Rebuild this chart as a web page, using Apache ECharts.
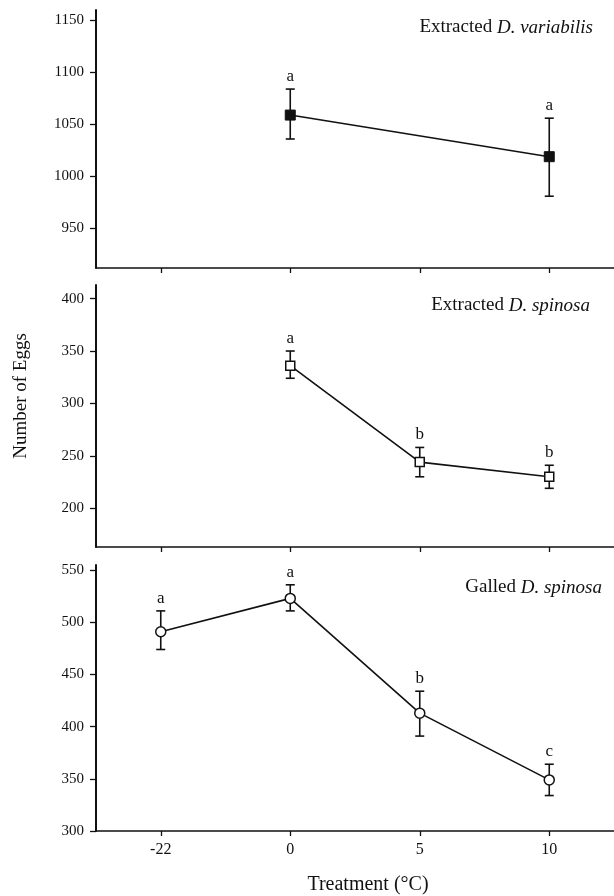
<!DOCTYPE html>
<html>
<head>
<meta charset="utf-8">
<script src="https://cdn.jsdelivr.net/npm/echarts@6/dist/echarts.min.js"></script>
<style>html,body{margin:0;padding:0;background:#fff}#c{width:614px;height:896px}</style>
</head>
<body>
<div id="c"></div>
<script>
// ---- Data ----
const categories = ['-22', '0', '5', '10'];

// Panel 1: Extracted D. variabilis
const varMean  = [null, 1059, null, 1019];
const varUpper = [null, 1084, null, 1056];
const varLower = [null, 1036, null, 981];
const varLetters = [null, 'a', null, 'a'];

// Panel 2: Extracted D. spinosa
const spiMean  = [null, 336, 244, 230];
const spiUpper = [null, 350, 258, 241];
const spiLower = [null, 324, 230, 219];
const spiLetters = [null, 'a', 'b', 'b'];

// Panel 3: Galled D. spinosa
const galMean  = [491, 523, 413, 349];
const galUpper = [511, 536, 434, 364];
const galLower = [474, 511, 391, 334];
const galLetters = ['a', 'a', 'b', 'c'];

// Tick labels
const ticks1 = [950, 1000, 1050, 1100, 1150];
const ticks2 = [200, 250, 300, 350, 400];
const ticks3 = [300, 350, 400, 450, 500, 550];

// ---- Chart ----
const FONT = '"Liberation Serif", "DejaVu Serif", serif';
const INK = '#111';

function errData(lower, upper, letters) {
  const out = [];
  for (let i = 0; i < lower.length; i++) {
    if (lower[i] == null) continue;
    out.push([i, lower[i], upper[i], letters[i]]);
  }
  return out;
}

function renderErr(params, api) {
  const i = api.value(0);
  const pLo = api.coord([i, api.value(1)]);
  const pHi = api.coord([i, api.value(2)]);
  const x = pLo[0];
  const cap = 4.5;
  const letter = api.value(3);
  const lineStyle = { stroke: INK, lineWidth: 1.6 };
  return {
    type: 'group',
    children: [
      { type: 'line', shape: { x1: x, y1: pLo[1], x2: x, y2: pHi[1] }, style: lineStyle },
      { type: 'line', shape: { x1: x - cap, y1: pLo[1], x2: x + cap, y2: pLo[1] }, style: lineStyle },
      { type: 'line', shape: { x1: x - cap, y1: pHi[1], x2: x + cap, y2: pHi[1] }, style: lineStyle },
      { type: 'text', style: { text: String(letter), x: x, y: pHi[1] - 4, fill: INK,
          font: '17px ' + FONT, align: 'center', verticalAlign: 'bottom' } }
    ]
  };
}

const gridLeft = 96, gridWidth = 523;
const grids = [
  { left: gridLeft, width: gridWidth, top: 10, height: 258 },
  { left: gridLeft, width: gridWidth, top: 285, height: 262 },
  { left: gridLeft, width: gridWidth, top: 565, height: 266 }
];

function xAxisFor(idx, showLabels) {
  return {
    type: 'category', gridIndex: idx, data: categories, boundaryGap: true,
    axisLine: { show: true, lineStyle: { color: INK, width: 1.5 } },
    axisTick: { show: true, alignWithLabel: true, length: 5, lineStyle: { color: INK, width: 1.3 } },
    axisLabel: { show: showLabels, color: INK, fontFamily: FONT, fontSize: 16, margin: 11 },
    splitLine: { show: false }
  };
}
function yAxisFor(idx, min, max, ticks) {
  return {
    type: 'value', gridIndex: idx, min: min, max: max,
    axisLine: { show: true, lineStyle: { color: INK, width: 2 } },
    axisTick: { show: true, length: 6, customValues: ticks, lineStyle: { color: INK, width: 1.3 } },
    axisLabel: { color: INK, fontFamily: FONT, fontSize: 15, margin: 12, customValues: ticks,
      formatter: function (v) { return String(v); } },
    splitLine: { show: false }
  };
}

const lineBase = {
  type: 'line', connectNulls: true, z: 3,
  lineStyle: { color: INK, width: 1.6 },
  itemStyle: { color: '#fff', borderColor: INK, borderWidth: 1.5 },
  symbolSize: 10, animation: false
};

const titleRich = {
  n: { fontFamily: FONT, fontSize: 19, color: INK, fontWeight: 'normal' },
  i: { fontFamily: FONT, fontSize: 19, color: INK, fontStyle: 'italic', fontWeight: 'normal' }
};
const titleStyle = { fontWeight: 'normal', fontFamily: FONT, fontSize: 19, color: INK, rich: titleRich };

const option = {
  backgroundColor: '#fff',
  animation: false,
  title: [
    { text: '{n|Extracted }{i|D. variabilis}', right: 21, top: 18, padding: 0, textStyle: titleStyle },
    { text: '{n|Extracted }{i|D. spinosa}', right: 24, top: 296, padding: 0, textStyle: titleStyle },
    { text: '{n|Galled }{i|D. spinosa}', right: 12, top: 578, padding: 0, textStyle: titleStyle }
  ],
  grid: grids,
  xAxis: [xAxisFor(0, false), xAxisFor(1, false), xAxisFor(2, true)],
  yAxis: [
    yAxisFor(0, 912, 1160, ticks1),
    yAxisFor(1, 163, 413, ticks2),
    yAxisFor(2, 300, 555, ticks3)
  ],
  series: [
    { type: 'custom', xAxisIndex: 0, yAxisIndex: 0, z: 1, renderItem: renderErr, data: errData(varLower, varUpper, varLetters) },
    Object.assign({}, lineBase, { xAxisIndex: 0, yAxisIndex: 0, data: varMean, symbol: 'rect',
      itemStyle: { color: INK, borderColor: INK, borderWidth: 1 } }),
    { type: 'custom', xAxisIndex: 1, yAxisIndex: 1, z: 1, renderItem: renderErr, data: errData(spiLower, spiUpper, spiLetters) },
    Object.assign({}, lineBase, { xAxisIndex: 1, yAxisIndex: 1, data: spiMean, symbol: 'rect', symbolSize: 9 }),
    { type: 'custom', xAxisIndex: 2, yAxisIndex: 2, z: 1, renderItem: renderErr, data: errData(galLower, galUpper, galLetters) },
    Object.assign({}, lineBase, { xAxisIndex: 2, yAxisIndex: 2, data: galMean, symbol: 'circle' })
  ],
  graphic: [
    { type: 'text', x: 21, y: 396, rotation: Math.PI / 2,
      style: { text: 'Number of Eggs', font: '19px ' + FONT, fill: INK, align: 'center', verticalAlign: 'middle' } },
    { type: 'text', x: 368, y: 885,
      style: { text: 'Treatment (°C)', font: '20px ' + FONT, fill: INK, align: 'center', verticalAlign: 'middle' } }
  ]
};

const chart = echarts.init(document.getElementById('c'), null, { renderer: 'canvas' });
chart.setOption(option);
</script>
</body>
</html>
